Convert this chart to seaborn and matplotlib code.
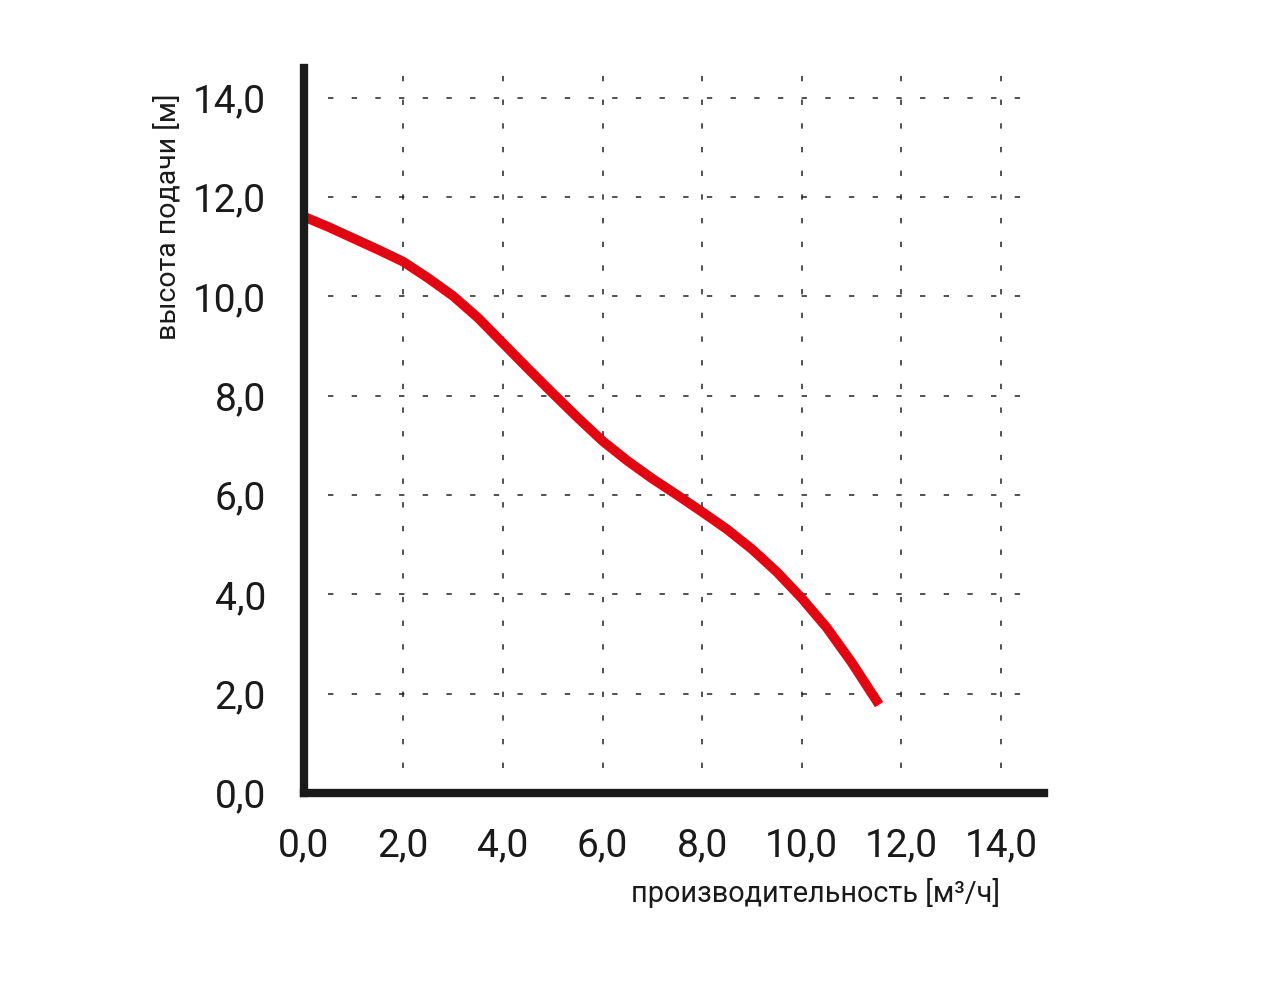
'''Pump performance curve: head vs flow'''
import matplotlib
matplotlib.use('Agg')
import matplotlib.pyplot as plt
import seaborn as sns
import pandas as pd

# flow [m3/h] and head [m]
flow = [0.0, 0.5, 1.0, 1.5, 2.0, 2.5, 3.0, 3.5, 4.0, 4.5, 5.0, 5.5, 6.0,
        6.5, 7.0, 7.5, 8.0, 8.5, 9.0, 9.5, 10.0, 10.5, 11.0, 11.55]
head = [11.61, 11.40, 11.17, 10.94, 10.70, 10.37, 10.01, 9.57, 9.06, 8.55, 8.05, 7.56, 7.09,
        6.69, 6.33, 6.00, 5.66, 5.31, 4.91, 4.45, 3.92, 3.33, 2.63, 1.78]

ticks = [0, 2, 4, 6, 8, 10, 12, 14]
tick_labels = ['0,0', '2,0', '4,0', '6,0', '8,0', '10,0', '12,0', '14,0']

x_label = 'производительность [м³/ч]'
y_label = 'высота подачи [м]'

sns.set_theme(style='white')
plt.rcParams['font.family'] = ['Roboto', 'DejaVu Sans']

fig = plt.figure(figsize=(12.84, 10), dpi=100)
ax = fig.add_axes([0.2364, 0.207, 0.5763, 0.725])

df = pd.DataFrame({'flow': flow, 'head': head})

# dashed grid, stopping a bit short of the axes like in the original
grid_style = dict(color='#222222', linewidth=1.1, linestyle=(0, (3.5, 12)))
ax.hlines(ticks[1:], 0.5, 14.5, **grid_style, zorder=1)
ax.vlines(ticks[1:], 0.5, 14.55, **grid_style, zorder=1)

sns.lineplot(data=df, x='flow', y='head', ax=ax, color='#e00712',
             linewidth=7, sort=False, solid_capstyle='butt',
             solid_joinstyle='round', zorder=3)

ax.set_xlim(0, 14.85)
ax.set_ylim(0, 14.6)
ax.set_xticks(ticks)
ax.set_xticklabels(tick_labels)
ax.set_yticks(ticks)
ax.set_yticklabels(tick_labels)
ax.tick_params(axis='both', length=0, labelsize=28, colors='#1a1a1a')
ax.tick_params(axis='y', pad=27)
ax.tick_params(axis='x', pad=25)

for side in ['top', 'right']:
    ax.spines[side].set_visible(False)
for side in ['left', 'bottom']:
    ax.spines[side].set_linewidth(6)
    ax.spines[side].set_color('#1a1a1a')
    ax.spines[side].set_zorder(4)

ax.set_xlabel('')
ax.set_ylabel('')
fig.text(1000 / 1284, 1 - 893 / 1000, x_label, ha='right', va='center',
         fontsize=20.8, color='#1a1a1a')
fig.text(168 / 1284, 1 - 94 / 1000, y_label, ha='center', va='top',
         rotation=90, fontsize=20.5, color='#1a1a1a')

fig.savefig('out.png', dpi=100)
